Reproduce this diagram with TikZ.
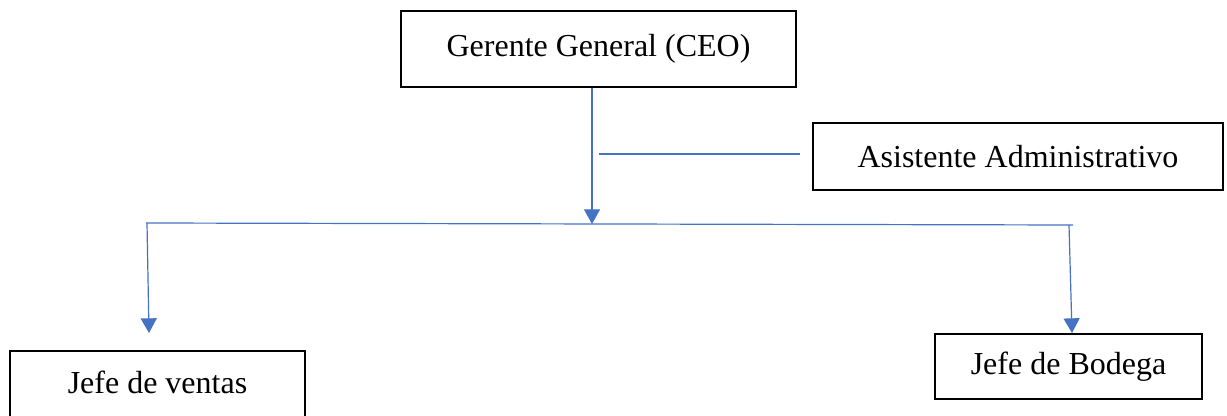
\documentclass[tikz,border=0pt]{standalone}
\usepackage{fontspec}
\setmainfont{Liberation Serif}
\usetikzlibrary{arrows.meta,calc}
\definecolor{lineblue}{HTML}{4472C4}
\tikzset{
  box/.style={draw=black, line width=1.7pt, rectangle, inner sep=0pt,
    font=\fontsize{24pt}{28pt}\selectfont},
  conn/.style={draw=lineblue, line width=0.9pt},
  arr/.style={conn, -{Triangle[width=12pt,length=11pt]}}
}
\begin{document}
\begin{tikzpicture}[x=0.75pt,y=-0.75pt]
\useasboundingbox[fill=white] (0,0) rectangle (1227,416);
\node[box, minimum width=296.25pt, minimum height=57pt] (ceo) at (598.5,49) {Gerente General (CEO)};
\node[box, minimum width=307.5pt, minimum height=50.25pt] (asis) at (1018,156.5) {Asistente Administrativo};
\node[box, minimum width=221.25pt, minimum height=51pt, text depth=4pt] (ventas) at (157.5,385) {Jefe de ventas};
\node[box, minimum width=200.25pt, minimum height=48.75pt] (bodega) at (1068.5,366.5) {Jefe de Bodega};
% junctions
\coordinate (j) at (592,224);
\coordinate (jl) at (146,223);
\coordinate (jr) at (1073,225);
\coordinate (vl) at (147,223);
\coordinate (vr) at (1069,225);
\coordinate (tl) at (149,333);
\coordinate (tr) at (1072,333);
\coordinate (a1) at (599,154);
\coordinate (a2) at (800,154);
% connectors
\draw[arr] (ceo.south -| j) -- (j);
\draw[conn] (jl) -- (jr);
\draw[arr] (vl) -- (tl);
\draw[arr] (vr) -- (tr);
\draw[conn] (a1) -- (a2);
\end{tikzpicture}
\end{document}
